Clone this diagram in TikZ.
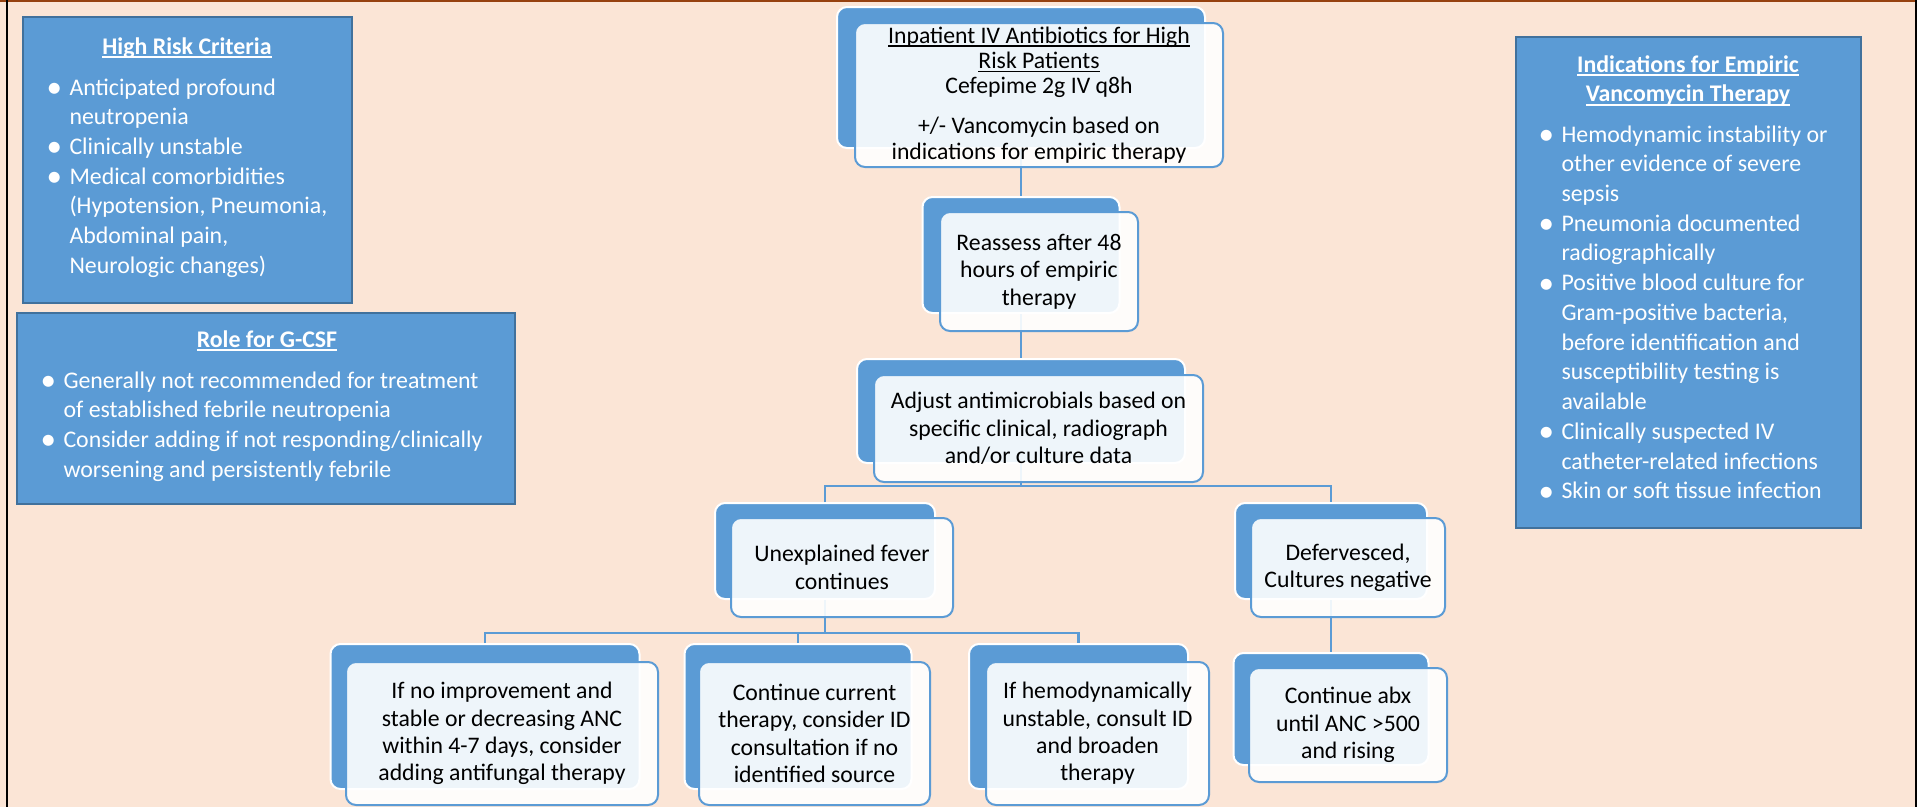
\documentclass[tikz,border=0pt]{standalone}
\usepackage{fontspec}
\setmainfont{Carlito}

\definecolor{peachbg}{RGB}{251,229,214}
\definecolor{accentblue}{RGB}{91,155,213}
\definecolor{paneledge}{RGB}{65,113,156}
\definecolor{topedge}{RGB}{150,65,15}

\newcommand{\flowfont}{\fontsize{17.8pt}{20.5pt}\selectfont}
\newcommand{\panelfont}{\fontsize{17.9pt}{22.3pt}\selectfont}
\newcommand{\ulined}[1]{\setbox0\hbox{#1}\rlap{\rule[-0.16em]{\wd0}{0.07em}}\box0}
\newcommand{\bul}{\raisebox{-0.1em}{\scalebox{1.3}{\textbullet}}}
\newenvironment{bulletlist}{\begin{tabular}[t]{@{}p{17.25pt}@{}l@{}}}{\end{tabular}}

\tikzset{every picture/.style={line width=0.75pt}}
\tikzset{
	sz/.style 2 args={minimum width=#1*0.75pt, minimum height=#2*0.75pt},
	backbox/.style={draw=white, line width=1.5pt, fill=accentblue, rounded corners=7.5pt, inner sep=0pt},
	frontbox/.style={draw=accentblue, line width=1.5pt, fill=white, fill opacity=0.9, text opacity=1, rounded corners=7.5pt, inner sep=0pt, align=center, font=\flowfont},
	conn/.style={draw=accentblue, line width=1.7pt},
	panel/.style={draw=paneledge, line width=1.2pt, fill=accentblue, inner sep=0pt},
	paneltitle/.style={text=white, font=\panelfont\bfseries, inner sep=0pt, anchor=base},
	panellist/.style={text=white, font=\panelfont, inner sep=0pt, anchor=base west},
}

\begin{document}
\begin{tikzpicture}[x=0.75pt,y=0.75pt,yscale=-1,xscale=1]
	\useasboundingbox (0,0) rectangle (1917,807);

	%Shape: Rectangle [page]
	\fill[peachbg] (0,0) rectangle (1917,807);
	%Straight Lines [frame]
	\draw[topedge, line width=1.5pt] (0,1) -- (1917,1);
	\draw[black, line width=1.5pt] (7,0) -- (7,807);
	\draw[black, line width=1.5pt] (1916,0) -- (1916,807);

	%Shape: Rectangle [high risk]
	\node[panel, sz={329}{286}] (riskPanel) at (187.5,160) {};
	% Text Node
	\node[paneltitle] (riskTitle) at (187,54) {\ulined{High Risk Criteria}};
	% Text Node
	\node[panellist] (riskList) at (46,95) {\begin{bulletlist}
		\bul & Anticipated profound\\
		& neutropenia\\
		\bul & Clinically unstable\\
		\bul & Medical comorbidities\\
		& (Hypotension, Pneumonia,\\
		& Abdominal pain,\\
		& Neurologic changes)
	\end{bulletlist}};

	%Shape: Rectangle [g-csf]
	\node[panel, sz={498}{191}] (gcsfPanel) at (266,408.5) {};
	% Text Node
	\node[paneltitle] (gcsfTitle) at (267,347) {\ulined{Role for G-CSF}};
	% Text Node
	\node[panellist] (gcsfList) at (40,388) {\begin{bulletlist}
		\bul & Generally not recommended for treatment\\
		& of established febrile neutropenia\\
		\bul & Consider adding if not responding/clinically\\
		& worsening and persistently febrile
	\end{bulletlist}};

	%Shape: Rectangle [vancomycin]
	\node[panel, sz={345}{491}] (vancoPanel) at (1688.5,282.5) {};
	% Text Node
	\node[paneltitle] (vancoTitle) at (1688,72) {\begin{tabular}[t]{@{}c@{}}
		\ulined{Indications for Empiric}\\
		\ulined{Vancomycin Therapy}
	\end{tabular}};
	% Text Node
	\node[panellist] (vancoList) at (1538,142) {\begin{bulletlist}
		\bul & Hemodynamic instability or\\
		& other evidence of severe\\
		& sepsis\\
		\bul & Pneumonia documented\\
		& radiographically\\
		\bul & Positive blood culture for\\
		& Gram-positive bacteria,\\
		& before identification and\\
		& susceptibility testing is\\
		& available\\
		\bul & Clinically suspected IV\\
		& catheter-related infections\\
		\bul & Skin or soft tissue infection
	\end{bulletlist}};

	%Shape: Back Boxes
	\node[backbox, sz={368}{141}] (bkTop) at (1021,77.5) {};
	\node[backbox, sz={197}{116}] (bkReass) at (1021,255) {};
	\node[backbox, sz={328}{104}] (bkAdjust) at (1021,411) {};
	\node[backbox, sz={220}{96}] (bkUnexpl) at (825,551) {};
	\node[backbox, sz={192}{96}] (bkDefer) at (1331,551) {};
	\node[backbox, sz={195}{112}] (bkAbx) at (1331,709) {};
	\node[backbox, sz={309}{145}] (bkLeft) at (485,716.5) {};
	\node[backbox, sz={227}{145}] (bkMid) at (798,716.5) {};
	\node[backbox, sz={219}{145}] (bkRight) at (1078.5,716.5) {};

	%Straight Lines [connectors]
	\coordinate (splitA) at (1021,486);
	\coordinate (splitB) at (825,633);
	\draw[conn] (bkTop.south) -- (bkReass.north);
	\draw[conn] (bkReass.south) -- (bkAdjust.north);
	\draw[conn] (bkAdjust.south) -- (splitA);
	\draw[conn] (bkUnexpl.north) |- (splitA) -| (bkDefer.north);
	\draw[conn] (bkUnexpl.south) -- (splitB);
	\draw[conn] (bkLeft.north) |- (splitB) -| (bkRight.north);
	\draw[conn] (bkMid.north) -- (bkMid.north |- splitB);
	\draw[conn] (bkDefer.south) -- (bkAbx.north);

	%Shape: Front Boxes
	\node[frontbox, sz={368}{144}, font={\fontsize{17.8pt}{19pt}\selectfont}] (top) at (1039,95)
		{\ulined{Inpatient IV Antibiotics for High}\\ \ulined{Risk Patients}\\ Cefepime 2g IV q8h\\[11pt] +/- Vancomycin based on\\ indications for empiric therapy};
	\node[frontbox, sz={198}{119}] (reass) at (1039,271.5) {Reassess after 48\\ hours of empiric\\ therapy};
	\node[frontbox, sz={329}{107}] (adjust) at (1038.5,428.5) {Adjust antimicrobials based on\\ specific clinical, radiograph\\ and/or culture data};
	\node[frontbox, sz={222}{99}] (unexpl) at (842,567.5) {Unexplained fever\\ continues};
	\node[frontbox, sz={194}{99}] (defer) at (1348,567.5) {Defervesced,\\ Cultures negative};
	\node[frontbox, sz={198}{114}] (abx) at (1348,725) {Continue abx\\ until ANC >500\\ and rising};
	\node[frontbox, sz={312}{143}] (left) at (502,733.5) {If no improvement and\\ stable or decreasing ANC\\ within 4-7 days, consider\\ adding antifungal therapy};
	\node[frontbox, sz={231}{143}] (mid) at (814.5,733.5) {Continue current\\ therapy, consider ID\\ consultation if no\\ identified source};
	\node[frontbox, sz={223}{143}] (right) at (1097.5,733.5) {If hemodynamically\\ unstable, consult ID\\ and broaden\\ therapy};

\end{tikzpicture}
\end{document}
